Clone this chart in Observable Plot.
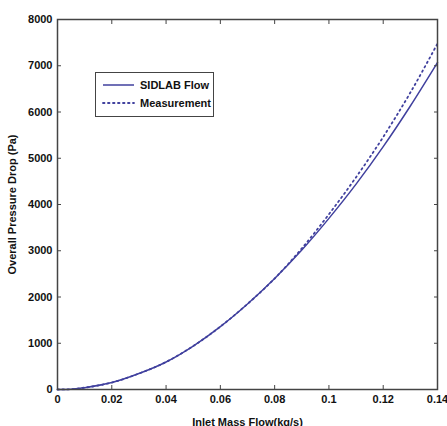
<!DOCTYPE html>
<html>
<head>
<meta charset="utf-8">
<script src="https://cdn.jsdelivr.net/npm/d3@7"></script>
<script src="https://cdn.jsdelivr.net/npm/@observablehq/plot@0.6"></script>
<style>
  html, body { margin: 0; padding: 0; background: #fff; }
  #wrap { position: relative; width: 447px; height: 426px; overflow: hidden; }
  #legend { position: absolute; left: 95px; top: 72px; width: 119px; height: 45px;
            border: 1.5px solid #444; background: #fff; box-sizing: border-box;
            font: bold 11px "Liberation Sans", Arial, sans-serif; color: #111; }
  #legend .row { position: absolute; left: 6px; height: 14px; display: flex; align-items: center; }
  #legend svg { margin-right: 5px; }
</style>
</head>
<body>
<div id="wrap"></div>
<script>
// Inlet mass flow (kg/s)
const massFlow = [0, 0.005, 0.01, 0.02, 0.03, 0.04, 0.05, 0.06, 0.07, 0.08, 0.09, 0.10, 0.11, 0.12, 0.13, 0.14];
// Overall pressure drop (Pa) — SIDLAB Flow simulation
const sidlab = [0, 5, 40, 150, 345, 595, 940, 1360, 1850, 2400, 3015, 3700, 4440, 5250, 6130, 7070];
// Overall pressure drop (Pa) — Measurement
const measurement = [0, 5, 40, 150, 345, 595, 940, 1360, 1850, 2400, 3050, 3790, 4590, 5460, 6420, 7480];

const xTicks = [0, 0.02, 0.04, 0.06, 0.08, 0.1, 0.12, 0.14];
const yTicks = [0, 1000, 2000, 3000, 4000, 5000, 6000, 7000, 8000];
const seriesNames = ["SIDLAB Flow", "Measurement"];
const lineColor = "#40409e";

const rowsSim = massFlow.map((m, i) => ({m, p: sidlab[i]}));
const rowsMeas = massFlow.map((m, i) => ({m, p: measurement[i]}));
const fmt = d => String(+d.toFixed(2));

const chart = Plot.plot({
  width: 447,
  height: 426,
  marginLeft: 57,
  marginRight: 10,
  marginTop: 19,
  marginBottom: 37,
  style: {fontFamily: "'Liberation Sans', Arial, sans-serif", fontSize: "11px", fontWeight: "bold", color: "#111", background: "#fff"},
  x: {domain: [0, 0.14]},
  y: {domain: [0, 8000]},
  marks: [
    Plot.line(rowsSim, {x: "m", y: "p", stroke: lineColor, strokeWidth: 1.5, curve: "monotone-x"}),
    Plot.line(rowsMeas, {x: "m", y: "p", stroke: lineColor, strokeWidth: 1.8, strokeDasharray: "1.5,3.5", strokeLinecap: "round", curve: "monotone-x"}),
    Plot.frame({stroke: "#444", strokeWidth: 1.5}),
    Plot.axisX(xTicks, {anchor: "bottom", tickSize: 0, tickPadding: 6, tickFormat: fmt,
      label: "Inlet Mass Flow(kg/s)", labelAnchor: "center", labelArrow: "none", labelOffset: 36}),
    Plot.axisX(xTicks, {anchor: "bottom", tickSize: -4, tickFormat: () => "", label: null, stroke: "#444"}),
    Plot.axisX(xTicks, {anchor: "top", tickSize: -4, tickFormat: () => "", label: null, stroke: "#444"}),
    Plot.axisY(yTicks, {anchor: "left", tickSize: 0, tickPadding: 5, tickFormat: d => String(d),
      label: "Overall Pressure Drop (Pa)", labelAnchor: "center", labelArrow: "none", labelOffset: 49}),
    Plot.axisY(yTicks, {anchor: "left", tickSize: -4, tickFormat: () => "", label: null, stroke: "#444"}),
    Plot.axisY(yTicks, {anchor: "right", tickSize: -4, tickFormat: () => "", label: null, stroke: "#444"})
  ]
});
const wrap = document.getElementById("wrap");
wrap.appendChild(chart);

// Legend
const legend = document.createElement("div");
legend.id = "legend";
const styles = [{dash: null}, {dash: "1.5,3.5"}];
seriesNames.forEach((name, i) => {
  const row = document.createElement("div");
  row.className = "row";
  row.style.top = (i === 0 ? 5 : 23) + "px";
  const dash = styles[i].dash ? `stroke-dasharray="${styles[i].dash}" stroke-linecap="round" stroke-width="1.8"` : `stroke-width="1.5"`;
  row.innerHTML = `<svg width="33" height="4"><line x1="1" y1="2" x2="32" y2="2" stroke="${lineColor}" ${dash}/></svg><span>${name}</span>`;
  legend.appendChild(row);
});
wrap.appendChild(legend);
</script>
</body>
</html>
